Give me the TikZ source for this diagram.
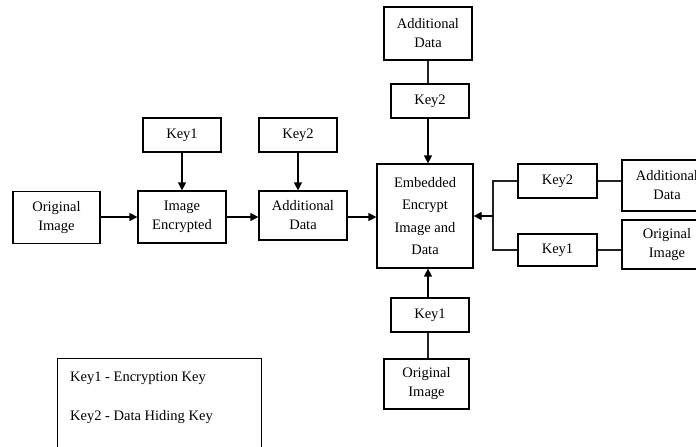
\documentclass[tikz,border=0pt]{standalone}
\usepackage{fontspec}
\setmainfont{Liberation Serif}
\usepackage{tikz}
\usetikzlibrary{arrows.meta, positioning, calc}
\usepackage{xcolor}
\definecolor{Ink}{HTML}{000000}
\definecolor{Line}{HTML}{222222}

\begin{document}
\begin{tikzpicture}[
            x=1pt, y=-1pt,
            block/.style={
                rectangle,
                draw=Ink,
                line width=1.2pt,
                inner sep=0pt,
                minimum width=88pt,
                minimum height=52pt,
                align=center,
                font=\fontsize{14.5}{19}\selectfont,
                text=Ink
            },
            keybox/.style={
                block,
                minimum width=78pt,
                minimum height=34pt
            },
            mainbox/.style={
                block,
                minimum width=96pt,
                minimum height=104pt,
                font=\fontsize{14.5}{22.5}\selectfont
            },
            arrow/.style={-{Triangle[length=8pt,width=8pt]}, line width=1.2pt, color=Ink},
            link/.style={line width=1.2pt, color=Line},
            note/.style={font=\fontsize{14.5}{17}\selectfont, text=Ink, inner sep=0pt, anchor=west}
        ]
            \useasboundingbox (0,0) rectangle (696,447);
            \clip (0,0) rectangle (696,447);

            % Encryption chain
            \node[block, minimum width=87pt] (orig) at (56.5,217.5) {Original\\Image};
            \node[block] (enc) at (182,217) {Image\\Encrypted};
            \node[keybox] (keyA) at (182,135) {Key1};
            \node[block, minimum height=49pt] (add) at (303,215.5) {Additional\\Data};
            \node[keybox] (keyB) at (298,135) {Key2};
            \node[mainbox] (emb) at (425,216) {Embedded\\Encrypt\\Image and\\Data};

            % Top branch
            \node[block, minimum height=53pt] (topadd) at (428,33.5) {Additional\\Data};
            \node[keybox] (topkey) at (430,101) {Key2};

            % Bottom branch
            \node[keybox] (botkey) at (430,315) {Key1};
            \node[block, minimum width=85pt, minimum height=50pt] (botorig) at (426.5,384) {Original\\Image};

            % Right branch
            \node[keybox, minimum width=79pt] (rkeyB) at (557.5,181) {Key2};
            \node[keybox, minimum width=79pt, minimum height=32pt] (rkeyA) at (557.5,250) {Key1};
            \node[block, minimum width=90pt, minimum height=51pt] (radd) at (667,185.5) {Additional\\Data};
            \node[block, minimum width=90pt, minimum height=49pt] (rorig) at (667,244.5) {Original\\Image};
            \coordinate (join) at (493,216);

            % Legend
            \node[block, minimum width=204pt, minimum height=102pt, anchor=north west] (legend) at (57,358) {};
            \node[note] (legA) at (70,378) {Key1 - Encryption Key};
            \node[note] (legB) at (70,417) {Key2 - Data Hiding Key};

            % Main forward flow
            \draw[arrow] (orig.east |- enc) -- (enc.west);
            \draw[arrow] (enc) -- (enc -| add.west);
            \draw[arrow] (add.east |- enc) -- (emb.west |- enc);
            \draw[arrow] (keyA) -- (enc);
            \draw[arrow] (keyB.south) -- (keyB.south |- add.north);

            % Paths into the embedded block
            \draw[link] (topadd.south) -- (topadd.south |- topkey.north);
            \draw[arrow] (topkey.south -| topadd.south) -- (topadd.south |- emb.north);
            \draw[link] (botorig.north -| topadd.south) -- (topadd.south |- botkey.south);
            \draw[arrow] (topadd.south |- botkey.north) -- (topadd.south |- emb.south);
            \draw[link] (rkeyB.east) -- (rkeyB.east -| radd.west);
            \draw[link] (rkeyA.east) -- (rkeyA.east -| rorig.west);
            \draw[link] (rkeyB.west) -| (join);
            \draw[link] (rkeyA.west) -| (join);
            \draw[arrow] (join) -- (emb.east |- join);
        \end{tikzpicture}
\end{document}
